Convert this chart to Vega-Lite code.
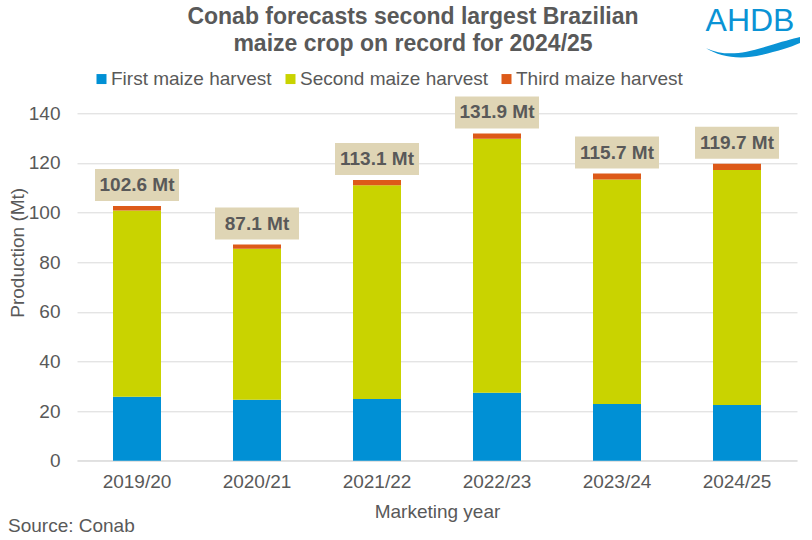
{
  "$schema": "https://vega.github.io/schema/vega-lite/v6.json",
  "width": 720,
  "height": 347.4,
  "autosize": "none",
  "padding": {"left": 77, "top": 113.3, "right": 15, "bottom": 79.3},
  "config": {"font": "Liberation Sans", "view": {"stroke": null}},
  "title": {
    "text": ["Conab forecasts second largest Brazilian", "maize crop on record for 2024/25"],
    "fontSize": 23,
    "fontWeight": "bold",
    "color": "#595959",
    "lineHeight": 27,
    "anchor": "middle",
    "frame": "group",
    "dx": -24,
    "offset": -51
  },
  "datasets": {
    "parts": [
      {"year": "2019/20", "harvest": "First maize harvest", "value": 25.8},
      {"year": "2019/20", "harvest": "Second maize harvest", "value": 75.0},
      {"year": "2019/20", "harvest": "Third maize harvest", "value": 1.8},
      {"year": "2020/21", "harvest": "First maize harvest", "value": 24.6},
      {"year": "2020/21", "harvest": "Second maize harvest", "value": 60.8},
      {"year": "2020/21", "harvest": "Third maize harvest", "value": 1.7},
      {"year": "2021/22", "harvest": "First maize harvest", "value": 24.9},
      {"year": "2021/22", "harvest": "Second maize harvest", "value": 86.1},
      {"year": "2021/22", "harvest": "Third maize harvest", "value": 2.1},
      {"year": "2022/23", "harvest": "First maize harvest", "value": 27.4},
      {"year": "2022/23", "harvest": "Second maize harvest", "value": 102.3},
      {"year": "2022/23", "harvest": "Third maize harvest", "value": 2.2},
      {"year": "2023/24", "harvest": "First maize harvest", "value": 22.9},
      {"year": "2023/24", "harvest": "Second maize harvest", "value": 90.4},
      {"year": "2023/24", "harvest": "Third maize harvest", "value": 2.4},
      {"year": "2024/25", "harvest": "First maize harvest", "value": 22.4},
      {"year": "2024/25", "harvest": "Second maize harvest", "value": 94.8},
      {"year": "2024/25", "harvest": "Third maize harvest", "value": 2.5}
    ],
    "totals": [
      {"year": "2019/20", "total": 102.6, "label": "102.6 Mt"},
      {"year": "2020/21", "total": 87.1, "label": "87.1 Mt"},
      {"year": "2021/22", "total": 113.1, "label": "113.1 Mt"},
      {"year": "2022/23", "total": 131.9, "label": "131.9 Mt"},
      {"year": "2023/24", "total": 115.7, "label": "115.7 Mt"},
      {"year": "2024/25", "total": 119.7, "label": "119.7 Mt"}
    ]
  },
  "encoding": {
    "x": {
      "field": "year",
      "type": "nominal",
      "sort": null,
      "scale": {"paddingInner": 0.6, "paddingOuter": 0.3},
      "axis": {
        "title": "Marketing year",
        "labelAngle": 0,
        "labelFontSize": 19,
        "labelColor": "#595959",
        "labelPadding": 12,
        "ticks": false,
        "domainColor": "#D9D9D9",
        "titleFontSize": 19,
        "titleFontWeight": "normal",
        "titleColor": "#595959",
        "titlePadding": 11
      }
    }
  },
  "layer": [
    {
      "data": {"name": "parts"},
      "mark": {"type": "bar"},
      "encoding": {
        "y": {
          "field": "value",
          "type": "quantitative",
          "stack": "zero",
          "scale": {"domain": [0, 140], "nice": false},
          "axis": {
            "title": "Production (Mt)",
            "values": [0, 20, 40, 60, 80, 100, 120, 140],
            "labelFontSize": 19,
            "labelColor": "#595959",
            "labelPadding": 17,
            "ticks": false,
            "domain": false,
            "gridColor": "#D9D9D9",
            "titleFontSize": 19,
            "titleFontWeight": "normal",
            "titleColor": "#595959",
            "titlePadding": 1,
            "titleY": 139
          }
        },
        "color": {
          "field": "harvest",
          "type": "nominal",
          "scale": {
            "domain": ["First maize harvest", "Second maize harvest", "Third maize harvest"],
            "range": ["#0090D5", "#C9D300", "#DD5A19"]
          },
          "legend": {
            "title": null,
            "orient": "none",
            "direction": "horizontal",
            "legendX": 15,
            "legendY": -44,
            "symbolType": "square",
            "symbolSize": 100,
            "symbolStrokeWidth": 0,
            "labelFontSize": 19,
            "labelColor": "#595959",
            "labelOffset": 0,
            "labelLimit": 300,
            "columnPadding": 9,
            "padding": 0
          }
        },
        "order": {"field": "harvest", "sort": "ascending"}
      }
    },
    {
      "data": {"name": "totals"},
      "mark": {"type": "bar", "width": 84, "color": "#DFD5B5", "yOffset": -37, "y2Offset": -5},
      "encoding": {
        "y": {"field": "total", "type": "quantitative"},
        "y2": {"field": "total"}
      }
    },
    {
      "data": {"name": "totals"},
      "mark": {"type": "text", "fontSize": 19, "fontWeight": "bold", "color": "#595959", "baseline": "middle", "yOffset": -21},
      "encoding": {
        "y": {"field": "total", "type": "quantitative"},
        "text": {"field": "label"}
      }
    },
    {
      "data": {"values": [{"t": "AHDB"}]},
      "mark": {"type": "text", "fontSize": 32, "color": "#0A93D5", "baseline": "middle", "align": "center", "dx": 13},
      "encoding": {
        "x": {"datum": "2024/25"},
        "y": {"datum": 177},
        "text": {"field": "t"}
      }
    },
    {
      "data": {"values": [{"t": "swoosh"}]},
      "mark": {
        "type": "point",
        "filled": true,
        "opacity": 1,
        "color": "#0A93D5",
        "size": 8836,
        "xOffset": 16,
        "shape": "M-1,0.04 C-0.6,0.22 -0.2,0.16 0.3,0.0 C0.6,-0.1 0.85,-0.16 1,-0.2 L1,-0.07 C0.8,0.02 0.5,0.11 0.2,0.18 C-0.3,0.3 -0.7,0.22 -1,0.04 Z"
      },
      "encoding": {
        "x": {"datum": "2024/25"},
        "y": {"datum": 167}
      }
    },
    {
      "data": {"values": [{"t": "Source: Conab"}]},
      "mark": {"type": "text", "fontSize": 19, "color": "#595959", "baseline": "middle", "align": "left", "dx": -129},
      "encoding": {
        "x": {"datum": "2019/20"},
        "y": {"datum": -26.3},
        "text": {"field": "t"}
      }
    }
  ]
}
